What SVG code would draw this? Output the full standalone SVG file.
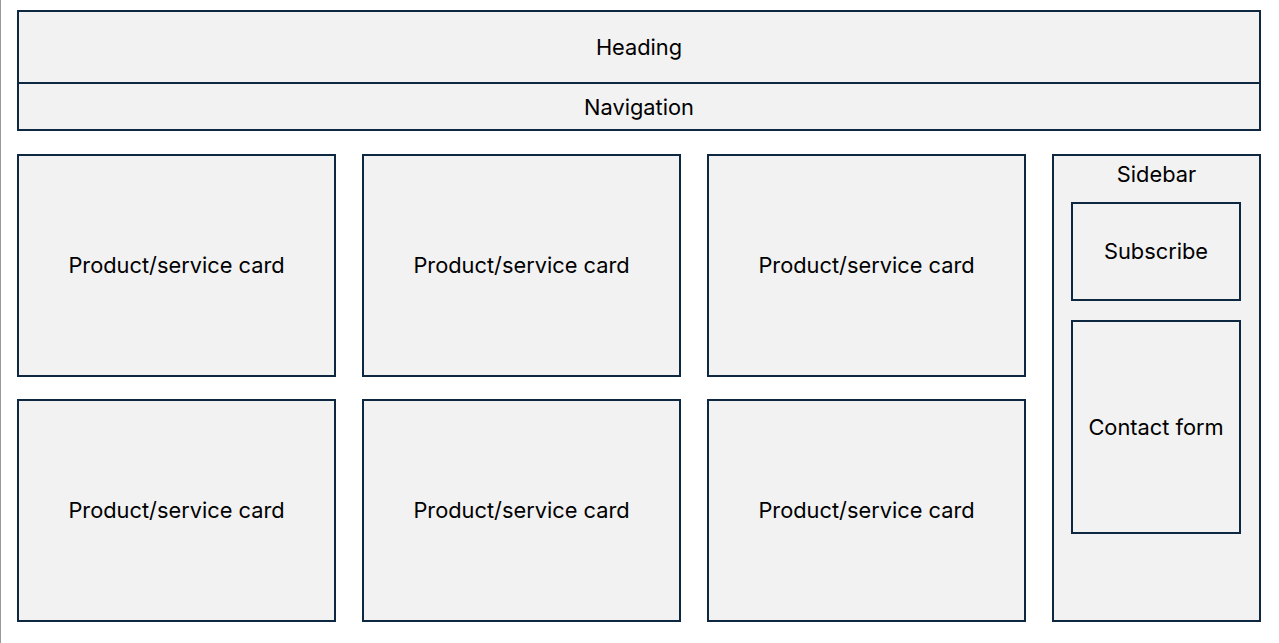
<svg xmlns="http://www.w3.org/2000/svg" width="1279" height="643" viewBox="0 0 1279 643">
<style>
.b{fill:#F2F2F2;stroke:#0E2841;stroke-width:2}
.t{font-family:Inter,"Liberation Sans",Arial,sans-serif;font-size:21.8px;fill:#000;text-anchor:middle}
</style>
<rect x="0" y="0" width="1279" height="643" fill="#fff"/>
<line x1="0.5" y1="0" x2="0.5" y2="643" stroke="#999" stroke-width="1"/>
<g id="heading"><rect class="b" x="18" y="11" width="1242" height="72"/><text class="t" x="639" y="55">Heading</text></g>
<g id="navigation"><rect class="b" x="18" y="83" width="1242" height="47"/><text class="t" x="639" y="115">Navigation</text></g>
<g id="card1"><rect class="b" x="18" y="155" width="317" height="221"/><text class="t" x="176.5" y="273">Product/service card</text></g>
<g id="card2"><rect class="b" x="363" y="155" width="317" height="221"/><text class="t" x="521.5" y="273">Product/service card</text></g>
<g id="card3"><rect class="b" x="708" y="155" width="317" height="221"/><text class="t" x="866.5" y="273">Product/service card</text></g>
<g id="card4"><rect class="b" x="18" y="400" width="317" height="221"/><text class="t" x="176.5" y="518">Product/service card</text></g>
<g id="card5"><rect class="b" x="363" y="400" width="317" height="221"/><text class="t" x="521.5" y="518">Product/service card</text></g>
<g id="card6"><rect class="b" x="708" y="400" width="317" height="221"/><text class="t" x="866.5" y="518">Product/service card</text></g>
<g id="sidebar"><rect class="b" x="1053" y="155" width="207" height="466"/><text class="t" x="1156.5" y="182">Sidebar</text></g>
<g id="subscribe"><rect class="b" x="1072" y="203" width="168" height="97"/><text class="t" x="1156" y="259">Subscribe</text></g>
<g id="contact"><rect class="b" x="1072" y="321" width="168" height="212"/><text class="t" x="1156" y="435">Contact form</text></g>
<g id="connectors"></g>
</svg>
